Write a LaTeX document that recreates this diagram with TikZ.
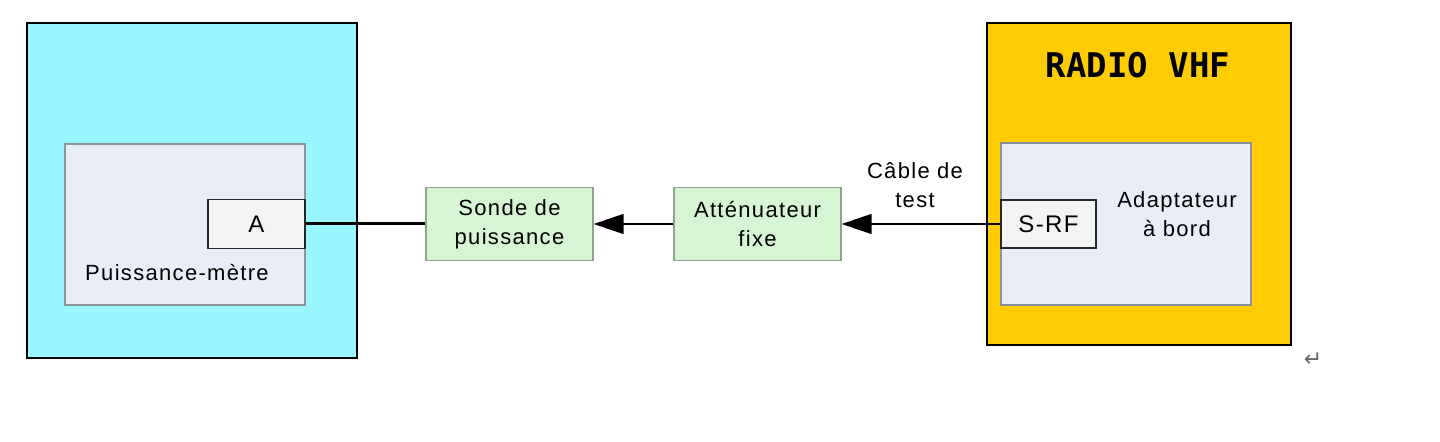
\documentclass[tikz,border=0pt]{standalone}
\usepackage{fontspec}
\setmainfont[LetterSpace=6]{Liberation Sans}
\newfontfamily\titlefont{DejaVu Sans Mono}
\newfontfamily\symfont{DejaVu Sans}
\usetikzlibrary{arrows.meta}
\definecolor{cyanfill}{RGB}{153,246,255}
\definecolor{orangefill}{RGB}{255,204,0}
\definecolor{lavfill}{RGB}{233,237,248}
\definecolor{greenfill}{RGB}{214,245,210}
\definecolor{innerborder}{RGB}{135,148,158}
\definecolor{greenborder}{RGB}{140,165,140}
\definecolor{portfill}{RGB}{243,243,243}
\tikzset{
  outerbox/.style={draw=black, line width=1.3pt, rectangle, inner sep=0pt},
  innerbox/.style={draw=innerborder, line width=0.8pt, fill=lavfill, rectangle, inner sep=0pt},
  portbox/.style={draw=black!85, line width=0.7pt, fill=portfill, rectangle, inner sep=0pt,
     font=\fontsize{12}{14}\selectfont},
  stagebox/.style={draw=greenborder, line width=0.7pt, fill=greenfill, rectangle, inner sep=0pt,
     minimum width=83.5pt, minimum height=36.5pt, align=center,
     font=\fontsize{11}{14.5}\selectfont},
  lbl/.style={align=center, inner sep=0pt, font=\fontsize{11}{14.5}\selectfont},
  sig/.style={line width=0.8pt, -{Triangle[length=15pt,width=10pt]}}
}
\begin{document}
\begin{tikzpicture}[x=0.5pt,y=-0.5pt]
\useasboundingbox (0,0) rectangle (1440,442);
% left instrument
\node[outerbox, fill=cyanfill, minimum width=165pt, minimum height=167.5pt] (pm) at (192,190.5) {};
\node[innerbox, minimum width=120pt, minimum height=80.5pt] (pmin) at (185,224.5) {};
\node[portbox, minimum width=48.5pt, minimum height=24.5pt] (A) at (256.5,224) {A};
\node[lbl, anchor=center] (pmlbl) at (177,273) {Puissance-mètre};
% chain
\node[stagebox] (sonde) at (509.5,224) {Sonde de\\puissance};
\node[stagebox] (att) at (757.5,224) {Atténuateur\\fixe};
% radio
\node[outerbox, fill=orangefill, minimum width=152pt, minimum height=161pt] (radio) at (1139,184) {};
\node[inner sep=0pt, font=\titlefont\bfseries\fontsize{17}{20}\selectfont] (rtitle) at (1138,65) {RADIO VHF};
\node[innerbox, minimum width=125pt, minimum height=81pt] (adin) at (1126,224) {};
\node[portbox, minimum width=47.5pt, minimum height=24pt] (srf) at (1048.5,224) {S-RF};
\node[lbl] (adlbl) at (1177,214) {Adaptateur\\à bord};
% connectors
\draw[line width=1.5pt] (A.east) -- (sonde.west);
\draw[sig] (att.west) -- (sonde.east);
\draw[sig] (srf.west) -- (att.east);
\node[lbl] (cable) at (915,185) {Câble de\\test};
% paragraph mark
\node[inner sep=0pt, text=black!60, font=\symfont\fontsize{11}{12}\selectfont] (pmark) at (1313,360) {↵};
\end{tikzpicture}
\end{document}
